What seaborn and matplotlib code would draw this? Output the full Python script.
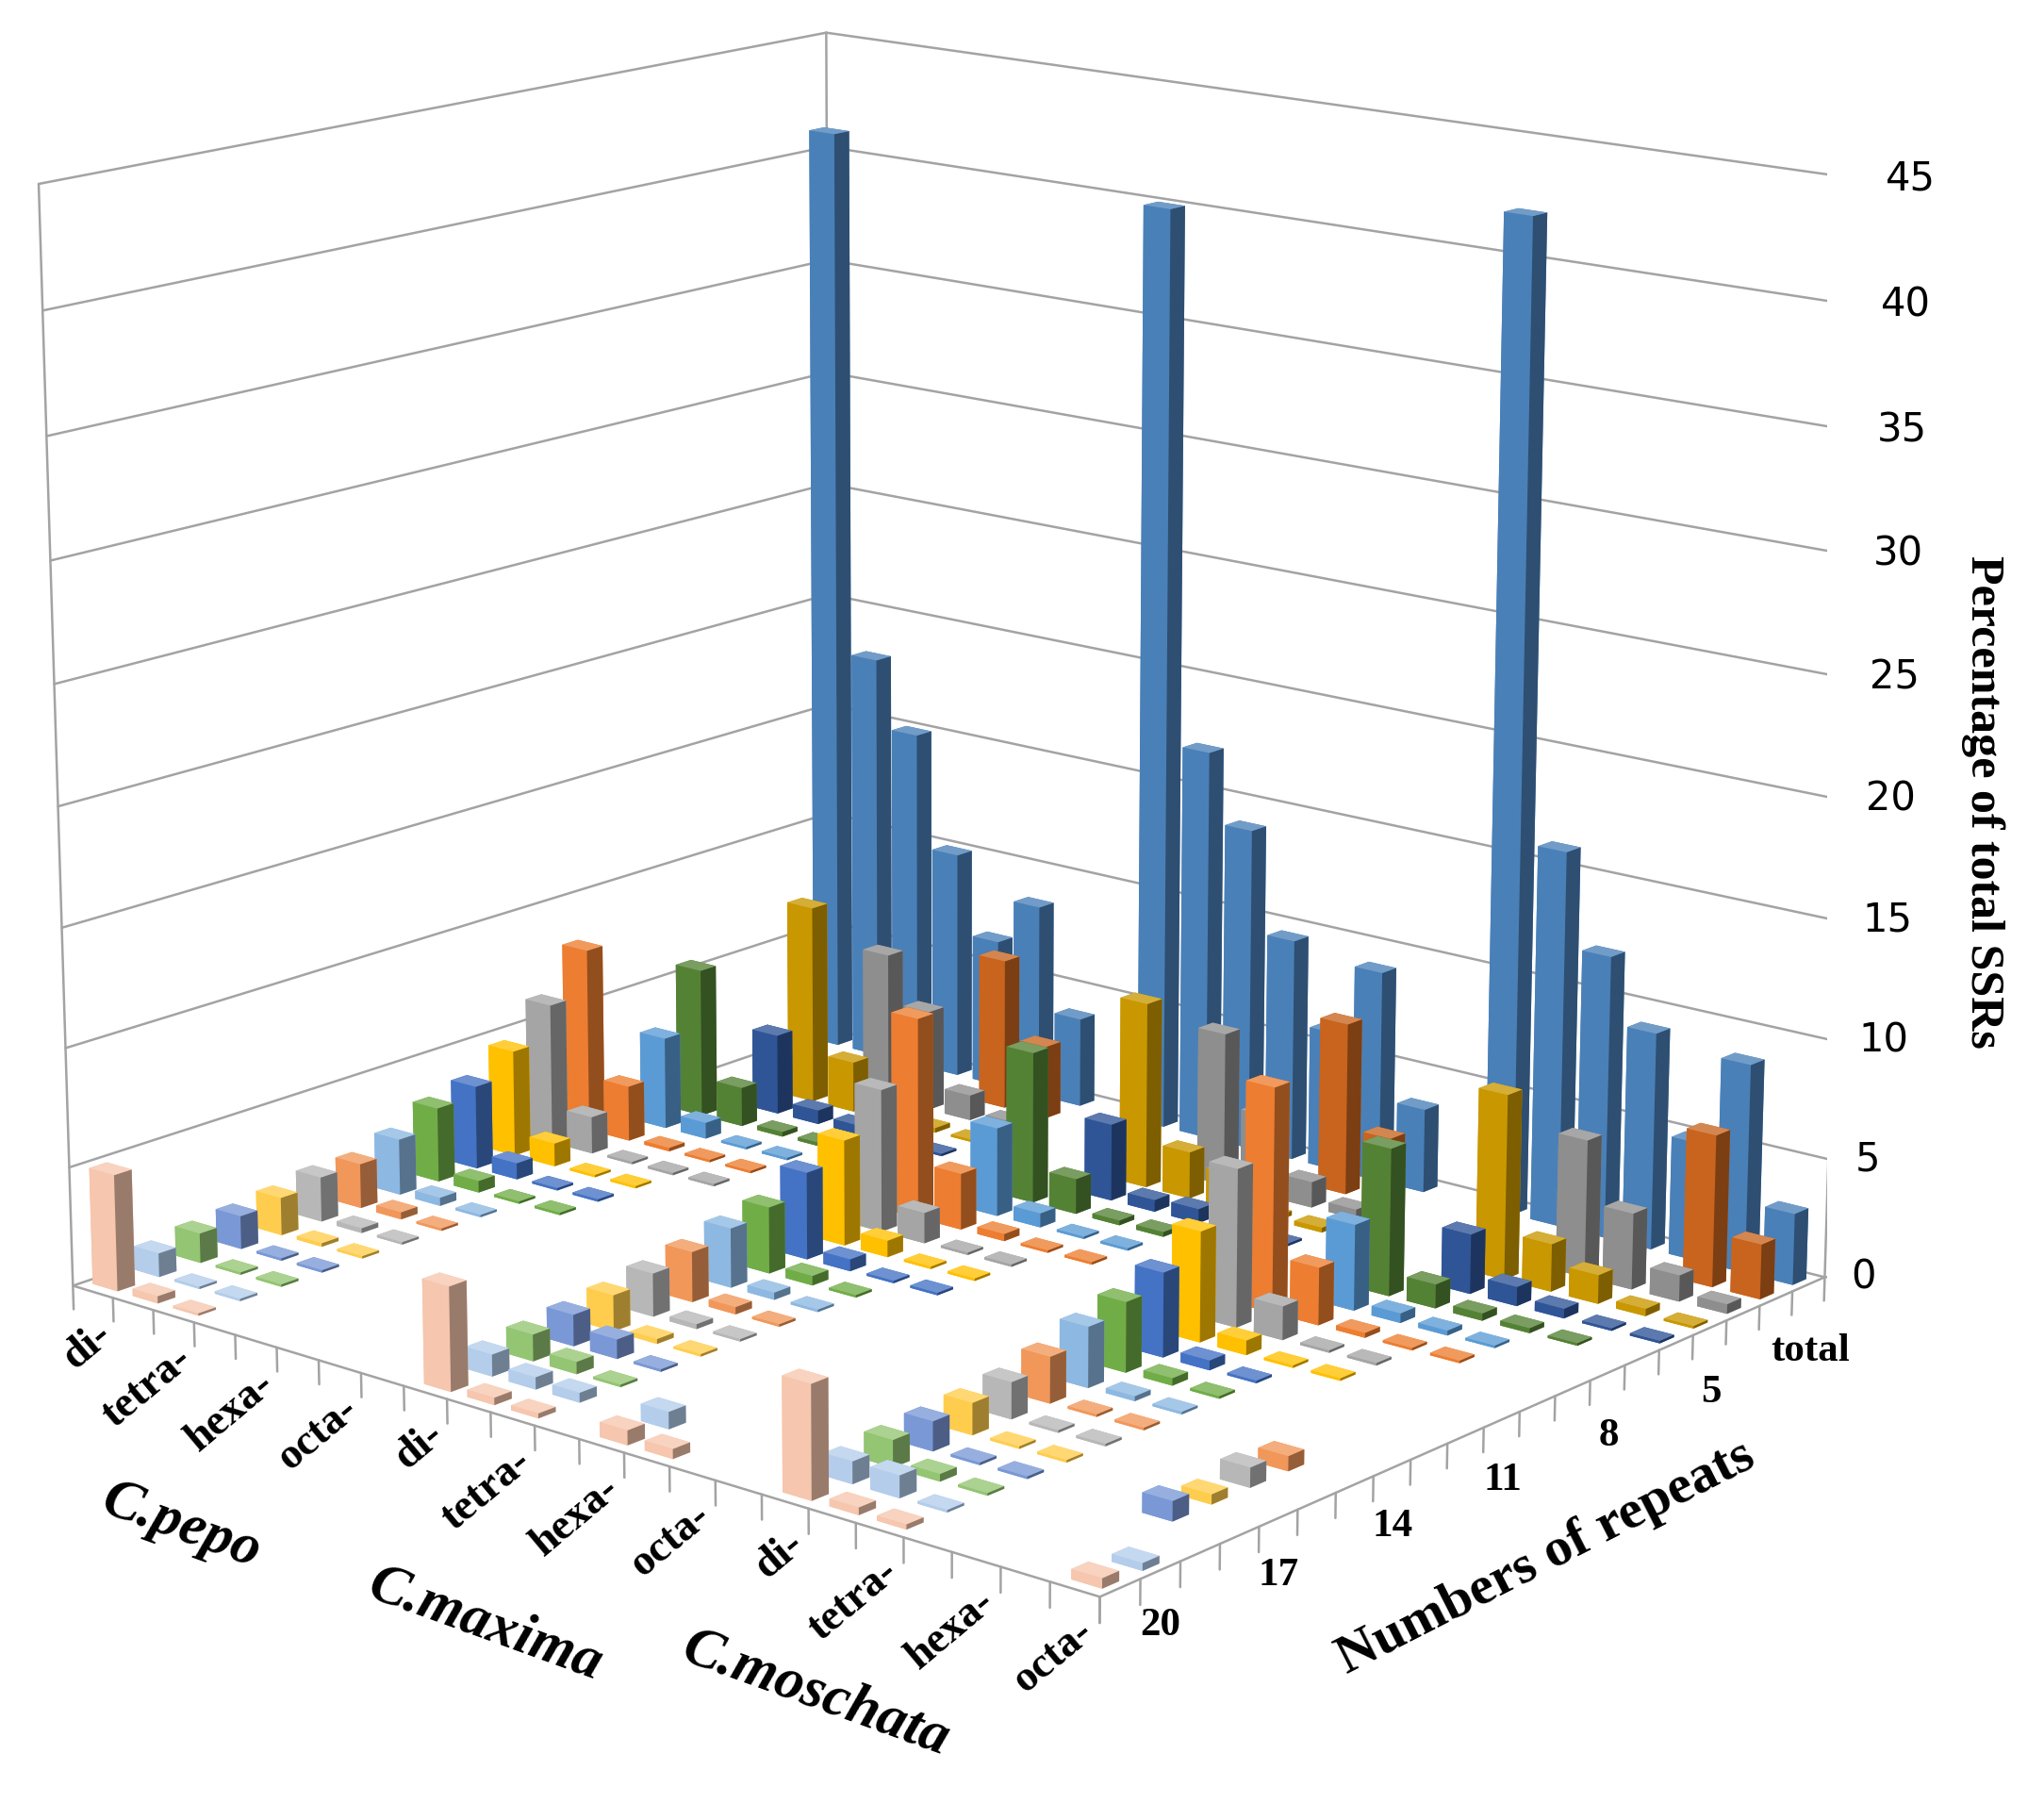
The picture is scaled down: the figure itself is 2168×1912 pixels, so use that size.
import numpy as np
import matplotlib
matplotlib.use("Agg")
import matplotlib.pyplot as plt
import matplotlib.colors as mcolors
import matplotlib.transforms as mtransforms
import seaborn as sns
from mpl_toolkits.mplot3d import proj3d

N = None

species = ["C.pepo", "C.maxima", "C.moschata"]
motifs = ["di-", "tri-", "tetra-", "penta-", "hexa-", "hepta-", "octa-"]
repeats = ["total"] + [str(r) for r in range(3, 21)] + [">20"]
repeat_ticks = ["total", "5", "8", "11", "14", "17", "20"]

# every list follows `repeats`: total (back row), 3, 4, ..., 20, >20 (front row)
# None = no column drawn
pepo_di = [41, N, N, N, N, N, N, 8.0, 6.1, 4.6, 3.6, 3.2, 2.4, 1.9, 1.9, 1.6, 1.4, 1.25, 1.0, 4.9]
pepo_tri = [18, N, N, N, N, 6.5, 4.0, 2.4, 1.6, 1.0, 0.7, 0.5, 0.35, 0.3, 0.2, 0.15, 0.1, 0.1, 0.1, 0.3]
pepo_tetra = [15, N, N, 8.7, 3.5, 1.7, 0.7, 0.15, 0.1, 0.1, 0.1, 0.1, 0.1, 0.1, 0.1, 0.1, 0.1, 0.1, 0.1, 0.1]
pepo_penta = [10, N, 6.5, 2.2, 0.6, 0.2, 0.1, 0.1, 0.1, 0.1, 0.1, 0.1, N, N, N, N, N, N, N, N]
pepo_hexa = [6.5, N, 4.4, 1.3, 0.4, 0.15, 0.1, 0.1, 0.1, N, N, N, N, N, N, N, N, N, N, N]
pepo_hepta = [8.5, 6.6, 1.1, 0.2, 0.1, 0.1, N, N, N, N, N, N, N, N, N, N, N, N, N, N]
pepo_octa = [3.9, 3.2, 0.4, 0.1, 0.1, N, N, N, N, N, N, N, N, N, N, N, N, N, N, N]

maxima_di = [40, N, N, N, N, N, N, 8.6, 6.1, 4.5, 3.7, 2.8, 2.5, 2.1, 1.8, 1.5, 1.3, 1.1, 0.9, 4.3]
maxima_tri = [17, N, N, N, N, 6.5, 3.8, 2.4, 1.3, 0.7, 0.5, 0.4, 0.3, 0.3, 0.2, 0.2, 0.8, 0.5, 0.5, 0.3]
maxima_tetra = [14, N, N, 8.0, 3.3, 1.5, 0.6, 0.3, 0.1, 0.1, 0.1, 0.1, 0.1, 0.1, 0.1, 0.1, 0.1, 0.1, 0.4, 0.2]
maxima_penta = [9.6, N, 6.6, 2.0, 0.5, 0.2, 0.1, 0.1, 0.1, 0.1, 0.1, N, N, N, N, N, N, N, N, N]
maxima_hexa = [6.0, N, 3.5, 1.5, 0.6, 0.2, 0.1, 0.1, N, N, N, N, N, N, N, N, N, N, 0.7, 0.6]
maxima_hepta = [9.1, 7.4, 1.1, 0.2, 0.1, 0.1, N, N, N, N, N, N, N, N, N, N, N, N, N, 0.4]
maxima_octa = [3.6, 2.9, 0.4, 0.2, 0.1, N, N, N, N, N, N, N, N, N, N, N, N, N, N, N]

moschata_di = [42, N, N, N, N, N, N, 9.4, 6.6, 4.6, 3.5, 2.9, 2.5, 1.9, 1.5, 1.3, 1.2, 1.1, 0.9, 4.6]
moschata_tri = [16, N, N, N, N, 6.2, 3.6, 2.4, 1.4, 0.6, 0.4, 0.3, 0.2, 0.1, 0.1, 0.1, 0.1, 0.3, 0.9, 0.3]
moschata_tetra = [12, N, N, 7.8, 2.5, 1.0, 0.4, 0.2, 0.1, 0.1, 0.1, 0.1, 0.1, 0.1, 0.1, 0.1, 0.1, 0.1, 0.1, 0.2]
moschata_penta = [9.2, N, 5.8, 2.0, 0.8, 0.3, 0.2, 0.1, 0.1, 0.1, N, N, N, N, N, N, N, N, N, N]
moschata_hexa = [5.0, N, 3.2, 1.2, 0.4, 0.2, 0.1, 0.1, N, N, N, N, N, N, N, N, N, N, N, N]
moschata_hepta = [8.8, 6.4, 1.1, 0.3, 0.1, 0.1, N, N, N, N, N, N, N, 0.6, 0.8, 0.4, 0.8, N, N, N]
moschata_octa = [3.0, 2.3, 0.4, 0.1, 0.1, N, N, N, N, N, N, N, N, N, N, N, N, N, 0.3, 0.4]

# one colour per repeat row (same order as `repeats`)
row_colors = ["#4A80B8", "#C8641E", "#8E8E8E", "#C99700", "#2F5597", "#548235",
              "#5B9BD5", "#ED7D31", "#A5A5A5", "#FFC000", "#4472C4", "#70AD47",
              "#8DB8E2", "#F1975A", "#B7B7B7", "#FFCD4D", "#7A98D6", "#93C572",
              "#B3CDEB", "#F6C6AE"]

table = [
    [pepo_di, pepo_tri, pepo_tetra, pepo_penta, pepo_hexa, pepo_hepta, pepo_octa],
    [maxima_di, maxima_tri, maxima_tetra, maxima_penta, maxima_hexa, maxima_hepta, maxima_octa],
    [moschata_di, moschata_tri, moschata_tetra, moschata_penta, moschata_hexa, moschata_hepta, moschata_octa],
]

sns.set_theme(style="white")
plt.rcParams["font.family"] = ["Liberation Serif", "DejaVu Serif"]

n_cat = 8 * len(species) - 1      # one empty slot between species
n_rep = len(repeats)
ZMAX = 45
aspect = (1.32, 1.15, 1.115)
azim, elev = -49.8, 14.8

fig = plt.figure(figsize=(21.68, 19.12), dpi=100)
ax = fig.add_axes([-0.047, 0.075, 1.0, 1.0], projection="3d")
ax.set_proj_type("persp", focal_length=0.78)
ax.view_init(elev=elev, azim=azim)
ax.set_box_aspect(aspect, zoom=1.14)
ax.set_xlim(0, n_cat)
ax.set_ylim(0, n_rep)
ax.set_zlim(0, ZMAX)
ax.set_axis_off()
ax.computed_zorder = False

# walls, gridlines and floor edges
wall = dict(color="#A3A3A3", lw=1.8, zorder=0)
for z in range(0, ZMAX + 1, 5):
    ax.plot([0, 0], [0, n_rep], [z, z], **wall)
    ax.plot([0, n_cat], [n_rep, n_rep], [z, z], **wall)
    ax.plot([n_cat, n_cat + 0.35], [n_rep, n_rep + 0.35], [z, z], **wall)
for (xe, ye) in [(0, 0), (0, n_rep), (n_cat, n_rep)]:
    ax.plot([xe, xe], [ye, ye], [0, ZMAX], **wall)
ax.plot([0, n_cat], [0, 0], [0, 0], **wall)
ax.plot([n_cat, n_cat], [0, n_rep], [0, 0], **wall)
for k in range(n_cat + 1):
    ax.plot([k, k], [0, 0], [0, -1.0], **wall)
for k in range(n_rep + 1):
    ax.plot([n_cat, n_cat], [k, k], [0, -1.0], **wall)

# columns
def shade(c, f):
    r = np.array(mcolors.to_rgb(c))
    return tuple(np.clip(r * f, 0, 1)) if f < 1 else tuple(r + (1 - r) * (f - 1))

bars = []
for s, group in enumerate(table):
    for m, vals in enumerate(group):
        i = 8 * s + m
        for j, v in enumerate(vals):
            if v is None:
                continue
            f = n_rep - 1 - j
            bars.append((i, f, v, row_colors[j]))

a = np.radians(azim)
def depth_key(b):
    xn = (b[0] + 0.5) / n_cat * aspect[0]
    yn = (b[1] + 0.5) / n_rep * aspect[1]
    return xn * np.cos(a) + yn * np.sin(a)

bars.sort(key=depth_key)
dx, dy = 0.62, 0.42
for zo, (i, f, v, c) in enumerate(bars, start=1):
    base = mcolors.to_rgb(c)
    faces = [base, shade(c, 1.22), base, base, base, shade(c, 0.62)]
    ax.bar3d(i + 0.5 - dx / 2, f + 0.5 - dy / 2, 0, dx, dy, v,
             color=faces, shade=False, linewidth=0, zorder=zo)

# texts: projected 3D anchor + offset in pixels, resolved at draw time
M = ax.get_proj()
def put(x, y, z, ox, oy, s, **kw):
    xs, ys, _ = proj3d.proj_transform(x, y, z, M)
    tr = mtransforms.offset_copy(ax.transData, fig=fig, x=ox, y=oy, units="dots")
    ax.text2D(xs, ys, s, transform=tr, zorder=2000, **kw)

bold = dict(fontweight="bold", color="black")
species_off = [(-35, -210), (-75, -204), (-118, -158)]
for s, name in enumerate(species):
    for m in range(0, 7, 2):
        put(8 * s + m + 0.5, 0, 0, 14, -40, motifs[m], rotation=40,
            rotation_mode="anchor", ha="right", va="center", fontsize=33, **bold)
    ox, oy = species_off[s]
    put(8 * s + 3.5, 0, 0, ox, oy, name, rotation=-20, ha="center",
        va="center", fontsize=44, fontstyle="italic", **bold)

for lab in repeat_ticks:
    j = repeats.index(lab)
    f = n_rep - 1 - j
    t = f / (n_rep - 1)
    put(n_cat, f + 0.5, 0, 2 * t, -58 - 13 * t, lab, ha="center",
        va="center", fontsize=31, **bold)
put(n_cat, 10, 0, 66, -138, "Numbers of repeats", rotation=27, ha="center",
    va="center", fontsize=42, **bold)

for z in range(0, ZMAX + 1, 5):
    put(n_cat, n_rep, z, 28, 0, str(z), ha="left", va="center", fontsize=30,
        family=["DejaVu Sans"], color="black")
put(n_cat, n_rep, 22.5, 150, -67, "Percentage of total SSRs", rotation=-90,
    ha="center", va="center", fontsize=36, **bold)

fig.savefig("out.png", dpi=100)
